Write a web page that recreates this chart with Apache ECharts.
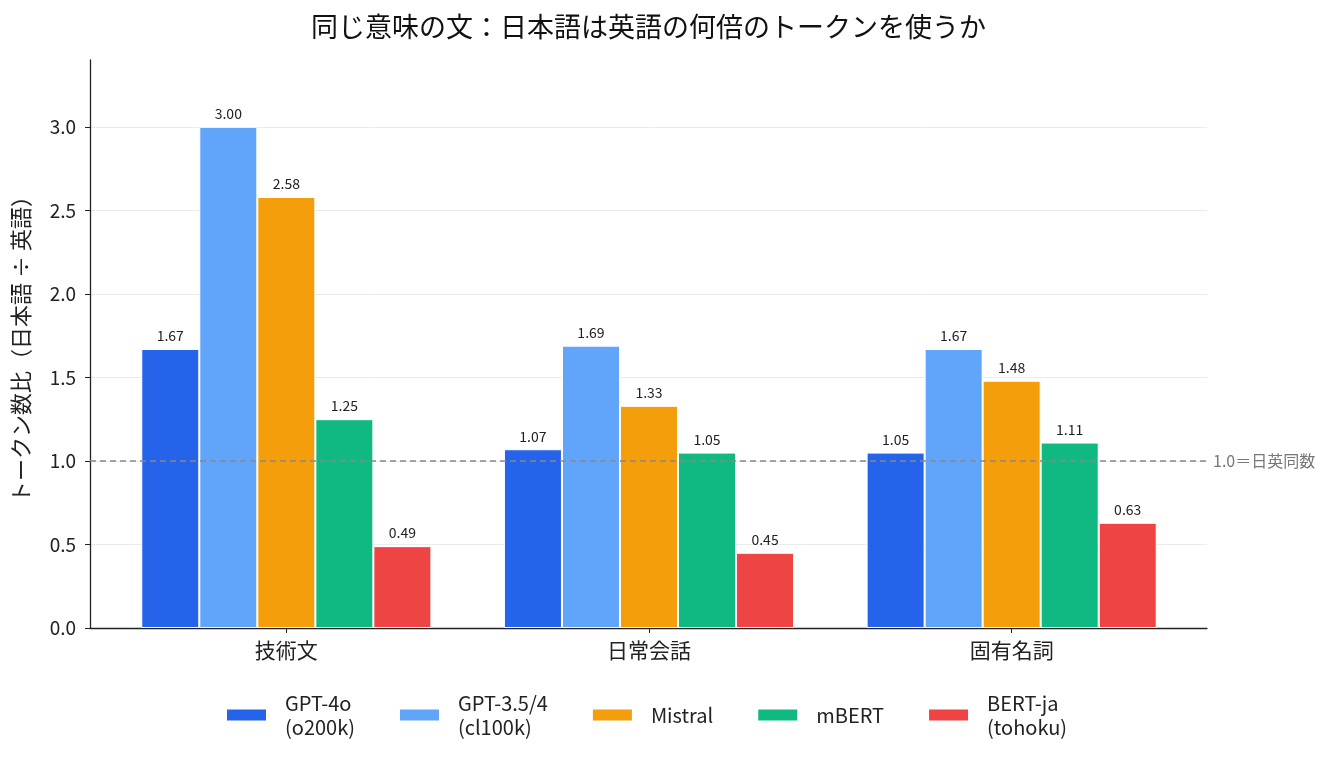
<!DOCTYPE html>
<html>
<head>
<meta charset="utf-8">
<script src="https://cdn.jsdelivr.net/npm/echarts@6/dist/echarts.min.js"></script>
<style>
  html, body { margin: 0; padding: 0; background: #fff; }
  #chart { width: 1332px; height: 763px; }
</style>
</head>
<body>
<div id="chart"></div>
<script>
// カテゴリとトークナイザごとの比率（日本語 ÷ 英語）
const categories = ['技術文', '日常会話', '固有名詞']
const models = ['GPT-4o\n(o200k)', 'GPT-3.5/4\n(cl100k)', 'Mistral', 'mBERT', 'BERT-ja\n(tohoku)']
const colors = ['#2563eb', '#60a5fa', '#f59e0b', '#10b981', '#ef4444']

const gpt4o = [1.67, 1.07, 1.05]
const gpt35 = [3.00, 1.69, 1.67]
const mistral = [2.58, 1.33, 1.48]
const mbert = [1.25, 1.05, 1.11]
const bertJa = [0.49, 0.45, 0.63]
const seriesValues = [gpt4o, gpt35, mistral, mbert, bertJa]

const yTicks = [0, 0.5, 1.0, 1.5, 2.0, 2.5, 3.0]
const yMax = 3.4
const parity = 1.0

const font = '"Noto Sans CJK JP", "Noto Sans", sans-serif'
let chart = echarts.init(document.getElementById('chart'))

// grid 0: 軸線・目盛り・補助線（全幅）、grid 1: 棒（左右に余白）
let series = seriesValues.map((vals, i) => ({
    name: models[i],
    type: 'bar',
    xAxisIndex: 1,
    yAxisIndex: 1,
    data: vals,
    barGap: '0%',
    barCategoryGap: '20%',
    itemStyle: { color: colors[i], borderColor: '#fff', borderWidth: 1 },
    label: {
        show: true,
        position: 'top',
        distance: 6,
        formatter: p => p.value.toFixed(2),
        fontSize: 14,
        color: '#222',
        fontFamily: font
    }
}))

series.push({
    type: 'line',
    xAxisIndex: 0,
    yAxisIndex: 0,
    data: [],
    silent: true,
    markLine: {
        silent: true,
        symbol: 'none',
        lineStyle: { color: '#888', type: [6, 4], width: 1.5 },
        label: {
            show: true,
            position: 'end',
            formatter: '1.0＝日英同数',
            color: '#777',
            fontSize: 16,
            fontFamily: font,
            distance: 6
        },
        data: [{ yAxis: parity }]
    }
})

let option = {
    backgroundColor: '#fff',
    textStyle: { fontFamily: font },
    title: {
        text: '同じ意味の文：日本語は英語の何倍のトークンを使うか',
        left: 306,
        top: 8,
        textStyle: { fontSize: 27, fontWeight: 'normal', color: '#111', fontFamily: font }
    },
    grid: [
        { left: 90, right: 125, top: 60, bottom: 135 },
        { left: 105, right: 139, top: 60, bottom: 135 }
    ],
    legend: {
        bottom: 19,
        left: 220,
        itemWidth: 41,
        itemHeight: 13,
        itemGap: 43,
        icon: 'rect',
        textStyle: { fontSize: 20, color: '#222', lineHeight: 24, fontFamily: font, padding: [0, 0, 0, 13] },
        data: models
    },
    xAxis: [
        {
            type: 'value',
            gridIndex: 0,
            min: 0,
            max: 1,
            axisLine: { show: true, lineStyle: { color: '#222', width: 1.3 } },
            axisTick: { show: false },
            axisLabel: { show: false },
            splitLine: { show: false }
        },
        {
            type: 'category',
            gridIndex: 1,
            data: categories,
            axisLine: { show: false },
            axisTick: { show: true, alignWithLabel: true, length: 5, lineStyle: { color: '#222' } },
            axisLabel: { fontSize: 21, color: '#222', margin: 12, fontFamily: font }
        }
    ],
    yAxis: [
        {
            type: 'value',
            gridIndex: 0,
            min: 0,
            max: yMax,
            interval: 0.5,
            name: 'トークン数比（日本語 ÷ 英語）',
            nameLocation: 'middle',
            nameGap: 58,
            nameTextStyle: { fontSize: 22, color: '#222', fontFamily: font },
            axisLine: { show: true, lineStyle: { color: '#222', width: 1.3 } },
            axisTick: { show: true, length: 5, lineStyle: { color: '#222' } },
            axisLabel: {
                fontSize: 19, color: '#222', margin: 14, fontFamily: font,
                showMaxLabel: false,
                formatter: v => yTicks.includes(+v.toFixed(1)) ? v.toFixed(1) : ''
            },
            splitLine: {
                lineStyle: {
                    color: ['#ebebeb', '#ebebeb', '#ebebeb', '#ebebeb', '#ebebeb', '#ebebeb', '#ebebeb', 'rgba(0,0,0,0)']
                }
            }
        },
        {
            type: 'value',
            gridIndex: 1,
            min: 0,
            max: yMax,
            show: false
        }
    ],
    series: series
}
chart.setOption(option)
</script>
</body>
</html>
